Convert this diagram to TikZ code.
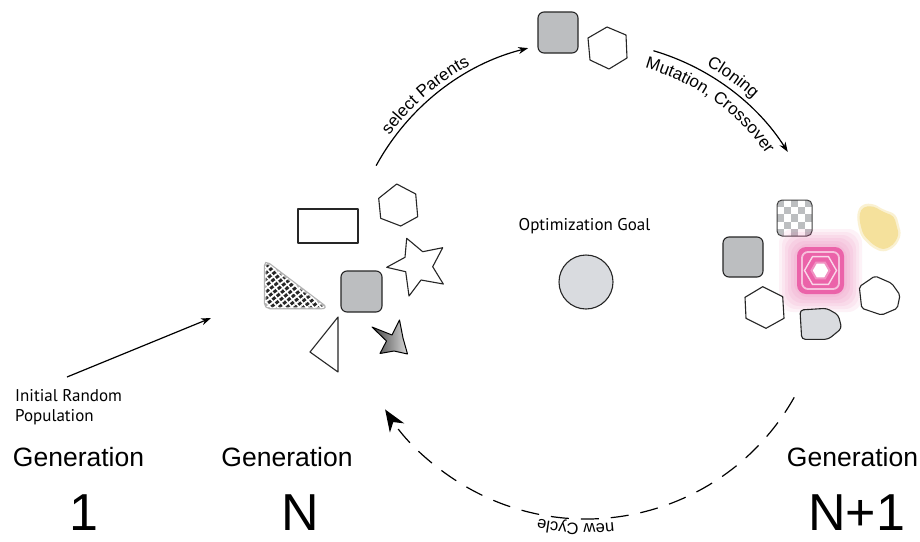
\documentclass[tikz,border=0pt]{standalone}
\usepackage{fontspec}
\setmainfont{Liberation Sans}
\newfontfamily\myr{PT Sans}
\usetikzlibrary{arrows.meta,decorations.text,patterns.meta,shapes.geometric}
\definecolor{sqgray}{HTML}{BCBEC0}
\definecolor{goalgray}{HTML}{D9DBDF}
\definecolor{glowpink}{HTML}{E8489A}
\definecolor{blobyellow}{HTML}{F5E19C}
\begin{document}
\begin{tikzpicture}[x=1pt,y=-1pt,
  shp/.style={draw=black!85,line width=1.1pt,line join=round},
  cyc/.style={line width=1.2pt},
  gen/.style={font=\fontsize{26.5}{26.5}\selectfont, anchor=base},
  big/.style={font=\fontsize{52}{52}\selectfont, anchor=base},
  small/.style={font=\myr\fontsize{17}{17}\selectfont, anchor=base west, inner sep=0pt},
  tip/.style={-{Stealth[length=10pt,width=7pt]}}
]
\useasboundingbox[fill=white] (0,0) rectangle (920,541);
\coordinate (ctr) at (586,280);

% ---- cycle arrows
\draw[cyc,tip] ([shift={(-151.4:239)}]ctr) arc[start angle=-151.4,end angle=-104,radius=239];
\draw[cyc,tip] ([shift={(-73.6:239)}]ctr) arc[start angle=-73.6,end angle=-32.4,radius=239];
\draw[cyc,dash pattern=on 18pt off 12pt,-{Stealth[length=22pt,width=17pt,inset=7pt]}]
  ([shift={(29.4:239)}]ctr) arc[start angle=29.4,end angle=147.2,radius=239];

% ---- labels along arcs
\path[decorate,decoration={text along path,text align=center,
  text={|\fontsize{17}{17}\selectfont|select Parents}}]
  ([shift={(-166:244)}]ctr) arc[start angle=-166,end angle=-96,radius=244];
\path[decorate,decoration={text along path,text align=center,
  text={|\fontsize{17}{17}\selectfont|Cloning}}]
  ([shift={(-84:246)}]ctr) arc[start angle=-84,end angle=-24,radius=246];
\path[decorate,decoration={text along path,text align=center,
  text={|\fontsize{17}{17}\selectfont|Mutation, Crossover}}]
  ([shift={(-85:220)}]ctr) arc[start angle=-85,end angle=-24.4,radius=220];
\path[decorate,decoration={text along path,text align=center,
  text={|\fontsize{16.5}{16.5}\selectfont|new Cycle}}]
  ([shift={(57:244)}]ctr) arc[start angle=57,end angle=127.8,radius=244];

% ---- initial arrow
\coordinate (initA) at (67,377);
\coordinate (initB) at (211,318);
\draw[cyc,tip] (initA) -- (initB);
\node[small] (init1) at (15,401.5) {Initial Random};
\node[small] (init2) at (15,421.5) {Population};

% ---- generation labels
\node[gen] (g1) at (78.5,466) {Generation};
\node[big] (n1) at (84,530) {1};
\node[gen] (g2) at (287,466) {Generation};
\node[big] (n2) at (300,530) {N};
\node[gen] (g3) at (852.5,466) {Generation};
\node[big] (n3) at (856.5,530) {N+1};

% ---- goal
\node[font=\myr\fontsize{17}{17}\selectfont,anchor=base] (goaltxt) at (584.5,230) {Optimization Goal};
\node[circle,draw=black!85,line width=1.1pt,fill=goalgray,minimum size=54pt,inner sep=0pt] (goal) at (586,282) {};

% ---- top (parents)
\draw[shp,fill=sqgray,rounded corners=6] (538,12) rectangle (578,53);
\draw[shp,fill=white] (607,27) -- (626,35) -- (627,58) -- (609,69) -- (590,60) -- (588,38) -- cycle;

% ---- generation N shapes
\draw[shp,fill=white] (298,209) rectangle (358,243);
\draw[shp,fill=white] (396.7,184) -- (415.7,194) -- (417.7,216.7) -- (400.7,226) -- (380.7,218.3) -- (378.7,198.3) -- cycle;
\draw[shp,fill=white] (406.7,238.3) -- (422.7,251.7) -- (442.7,247.7) -- (432.7,266.7) -- (443.3,284) -- (421,280) -- (409,296) -- (405.7,271.7) -- (386.7,267.3) -- (405,257.3) -- cycle;
\draw[shp,fill=sqgray,rounded corners=6] (341,271) rectangle (382,312);
% hatched shape
\draw[black!30,line width=2.5pt,fill=black!85,rounded corners=5] (265,261) -- (265,308) -- (327,308) -- cycle;
\fill[pattern={Lines[angle=38,distance=5pt,line width=1.8pt]},pattern color=white,rounded corners=5] (265,261) -- (265,308) -- (327,308) -- cycle;
\fill[pattern={Lines[angle=-50,distance=5.5pt,line width=1.5pt]},pattern color=white,rounded corners=5] (265,261) -- (265,308) -- (327,308) -- cycle;
% triangle
\draw[shp,fill=white] (338,317) -- (310,352) -- (338,372) -- cycle;
% gradient star
\draw[black,line width=1pt,line join=round,left color=black!75,right color=black!15] (372,327) -- (392,335) -- (399.5,320) -- (403,338) -- (407.5,354) -- (394,351) -- (380,353.5) -- (386.5,341) -- cycle;

% ---- generation N+1 shapes
% checker
\begin{scope}
\clip[rounded corners=5] (777,200) rectangle (812,236);
\fill[white] (777,200) rectangle (812,236);
\foreach \i in {0,...,4} \foreach \j in {0,...,4} {
  \ifodd\numexpr\i+\j\relax\else \fill[sqgray] (777+7*\i,200+7.2*\j) rectangle ++(7,7.2);\fi}
\end{scope}
\draw[black!75,line width=1pt,rounded corners=5] (777,200) rectangle (812,236);
% yellow blob
\fill[blobyellow,opacity=.45,rounded corners=5] (857,212) -- (862,204) -- (873.3,203.5) -- (883,209.5) -- (896,214) -- (901.5,235) -- (895,247) -- (883.3,252.5) -- (872,247.5) -- (861,236.5) -- (857.5,223) -- cycle;
\fill[blobyellow,rounded corners=4] (859.3,213.3) -- (863.3,206.7) -- (873.3,206) -- (882.7,211.7) -- (894,216) -- (899,235) -- (893.3,245) -- (883.3,250) -- (873.3,245) -- (863.3,235) -- (860,223.3) -- cycle;
% gray square
\draw[shp,fill=sqgray,rounded corners=6] (723,237) rectangle (763,277);
% pink glowing square
\foreach \g in {18,15,12,9,6,3} {
  \fill[glowpink,opacity=0.07,rounded corners=14] (797-\g,247-\g) rectangle (844+\g,294+\g);}
\fill[glowpink!85,rounded corners=9] (797,247) rectangle (844,294);
\draw[white,opacity=.6,line width=1.8pt,rounded corners=6] (802,252) rectangle (839,289);
\node[regular polygon,regular polygon sides=6,minimum size=32pt,inner sep=0pt,draw=white,opacity=.75,line width=1.4pt] (pinkhexa) at (820.5,270.5) {};
\node[regular polygon,regular polygon sides=6,minimum size=18pt,inner sep=0pt,fill=white,draw=glowpink!60,line width=2pt] (pinkhexb) at (820.5,270.5) {};
% hexagon
\draw[shp,fill=white] (762.7,286.7) -- (782.7,296.7) -- (784,318.3) -- (766,328.3) -- (746,318.3) -- (745,297.3) -- cycle;
% cut gray shape
\draw[shp,fill=goalgray,rounded corners=3.5] (800,310) -- (826.7,308.3) -- (838.3,315) -- (841.7,328.3) -- (828.3,339.3) -- (801.7,339.3) -- cycle;
% heptagon
\draw[shp,fill=white,rounded corners=2] (875,276) -- (891.7,283.3) -- (900,295) -- (897.3,308.3) -- (881.7,315) -- (861.7,308.3) -- (859.3,286.7) -- cycle;
\end{tikzpicture}
\end{document}
